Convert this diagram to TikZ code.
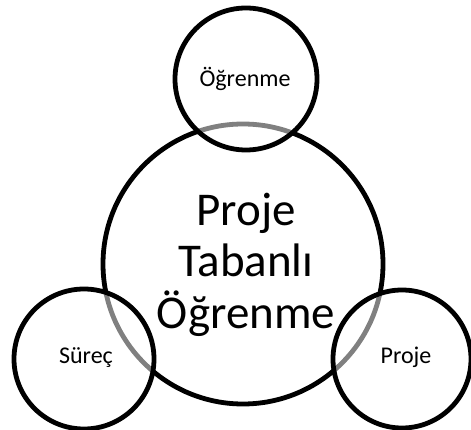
\documentclass[tikz,border=0pt]{standalone}
\usepackage{fontspec}
\setmainfont{Carlito}
\begin{document}
\begin{tikzpicture}[x=1pt,y=-1pt,
  ring/.style={draw=black,line width=4.8pt},
  smallring/.style={ring,fill=white,fill opacity=0.5,draw opacity=1},
  smalltext/.style={font=\fontsize{24}{29}\selectfont,text=black,anchor=base,inner sep=0pt},
  bigtext/.style={font=\fontsize{47}{51.5}\selectfont,text=black,align=center,anchor=base,inner sep=0pt}]
\useasboundingbox (0,0) rectangle (471,430);
\path[ring] (243,264) circle[radius=140];
\path[smallring] (246,79) circle[radius=71];
\path[smallring] (84,359) circle[radius=70];
\path[smallring] (402,359) circle[radius=69];
\node[smalltext] (t1) at (245,87) {Öğrenme};
\node[smalltext] (t2) at (86,363) {Süreç};
\node[smalltext] (t3) at (406,363) {Proje};
\node[bigtext] (t0) at (246,328) {Proje\\Tabanlı\\Öğrenme};
\end{tikzpicture}
\end{document}
